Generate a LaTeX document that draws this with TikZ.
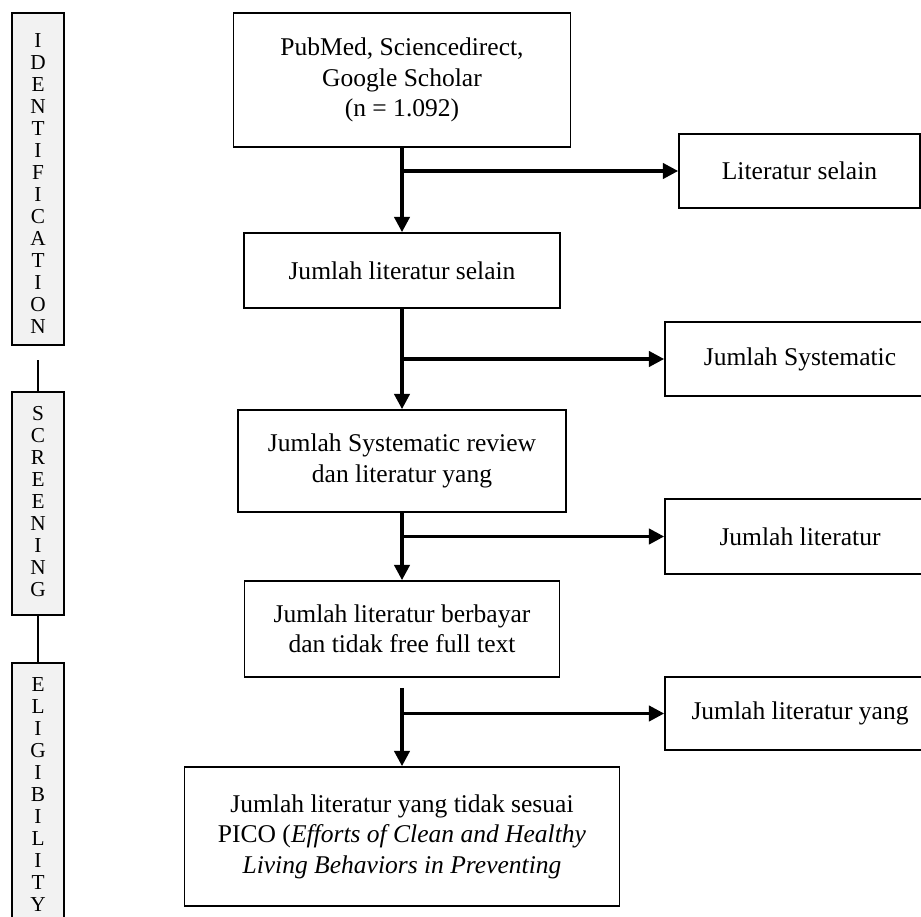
\documentclass[tikz,border=0pt]{standalone}
\usepackage{fontspec}
\setmainfont{Liberation Serif}
\usepackage{tikz}
\usetikzlibrary{arrows.meta,positioning}
\newcommand{\pxu}{0.47pt}
\definecolor{barfill}{RGB}{242,242,242}

\begin{document}
\begin{tikzpicture}[x=\pxu,y=-\pxu]
\tikzstyle{box}=[rectangle,draw,line width=0.8pt,align=center,inner sep=0pt,font=\fontsize{12}{14.3}\selectfont]
\tikzstyle{side}=[rectangle,draw,line width=1pt,fill=barfill,minimum width=52*\pxu,inner sep=0pt]
\tikzstyle{letters}=[align=center,inner sep=0pt,font=\fontsize{10}{10.34}\selectfont]
\tikzstyle{flow}=[line width=1.6pt,-{Triangle[length=7.2pt,width=7.2pt]}]
\tikzstyle{link}=[line width=0.9pt]
\useasboundingbox (0,0) rectangle (921,916);
\clip (0,0) rectangle (921,916);

\node[side,minimum height=332*\pxu] (idbar) at (38,179) {};
\node[side,minimum height=223*\pxu] (scrbar) at (38,503.5) {};
\node[side,minimum height=297*\pxu] (elbar) at (38,811.5) {};
\node[letters,below=9.9pt of idbar.north] (idtxt) {I\\D\\E\\N\\T\\I\\F\\I\\C\\A\\T\\I\\O\\N};
\node[letters,below=7pt of scrbar.north] (scrtxt) {S\\C\\R\\E\\E\\N\\I\\N\\G};
\node[letters,below=7pt of elbar.north] (eltxt) {E\\L\\I\\G\\I\\B\\I\\L\\I\\T\\Y};

\node[box,minimum width=337*\pxu,minimum height=134*\pxu] (src) at (402,80) {PubMed, Sciencedirect,\\Google Scholar\\(n = 1.092)};
\node[box,minimum width=316*\pxu,minimum height=75*\pxu] (sel) at (402,270.5) {Jumlah literatur selain};
\node[box,minimum width=328*\pxu,minimum height=102*\pxu] (sys) at (402,461) {Jumlah Systematic review\\dan literatur yang};
\node[box,minimum width=315*\pxu,minimum height=96*\pxu] (bayar) at (402,629) {Jumlah literatur berbayar\\dan tidak free full text};
\node[box,minimum width=435*\pxu,minimum height=139*\pxu] (pico) at (402,836.5) {Jumlah literatur yang tidak sesuai\\PICO (\textit{Efforts of Clean and Healthy}\\\textit{Living Behaviors in Preventing}};

\node[box,minimum width=241*\pxu,minimum height=74*\pxu] (nonlit) at (799.5,171) {Literatur selain};
\node[box,minimum width=270*\pxu,minimum height=74*\pxu] (rsys) at (800,359) {Jumlah Systematic};
\node[box,minimum width=270*\pxu,minimum height=75*\pxu] (rlit) at (800,536.5) {Jumlah literatur};
\node[box,minimum width=270*\pxu,minimum height=73*\pxu] (ryang) at (800,713.5) {Jumlah literatur yang};

\draw[link] ([yshift=-6.6pt]idbar.south) -- (scrbar.north);
\draw[link] (scrbar.south) -- (elbar.north);

\draw[flow] (src.south) -- (sel.north);
\draw[flow] (src.south |- nonlit.west) -- (nonlit.west);
\draw[flow] (sel.south) -- (sys.north);
\draw[flow] (sel.south |- rsys.west) -- (rsys.west);
\draw[flow] (sys.south) -- (bayar.north);
\draw[flow] (sys.south |- rlit.west) -- (rlit.west);
\draw[flow] ([yshift=-4.7pt]bayar.south) -- (pico.north);
\draw[flow] (bayar.south |- ryang.west) -- (ryang.west);
\end{tikzpicture}
\end{document}
